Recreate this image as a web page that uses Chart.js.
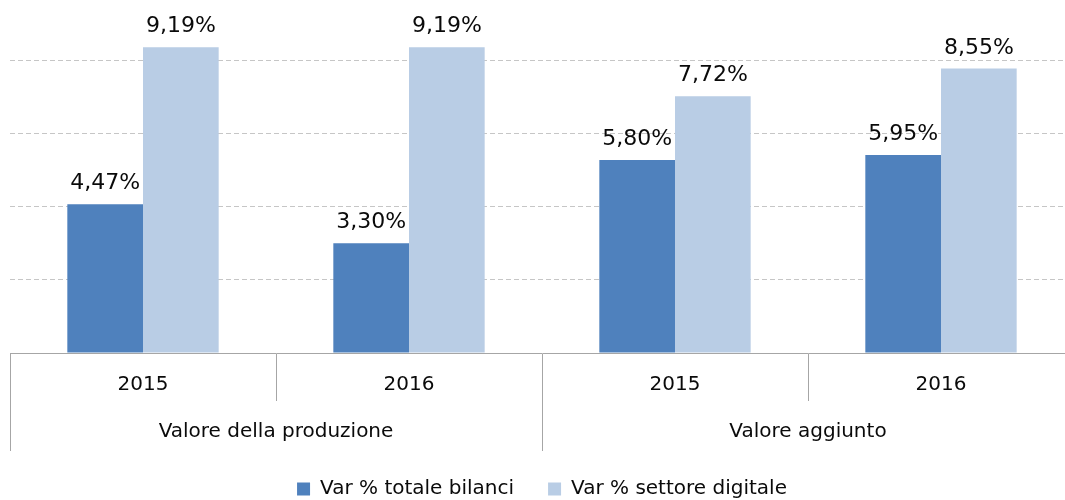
<!DOCTYPE html>
<html><head><meta charset="utf-8">
<script src="https://cdn.jsdelivr.net/npm/chart.js@4/dist/chart.umd.min.js"></script>
<style>html,body{margin:0;padding:0;overflow:hidden;background:#fff;width:1065px;height:500px}canvas{display:block}</style>
</head><body>
<canvas id="c" width="1075" height="509"></canvas>
<script>
const categories = ['2015', '2016', '2015', '2016'];
const groups = ['Valore della produzione', 'Valore aggiunto'];
const seriesNames = ['Var % totale bilanci', 'Var % settore digitale'];
const totaleBilanci = [4.47, 3.30, 5.80, 5.95];
const settoreDigitale = [9.19, 9.19, 7.72, 8.55];
const gridValues = [0, 2.2, 4.4, 6.6, 8.8];
const yMax = 10.61;

const FONT = '"DejaVu Sans", sans-serif';
const TEXT = '#0a0a0a';
const AXIS = '#a6a6a6';

const fmt = v => v.toFixed(2).replace('.', ',') + '%';

const valueLabels = {
  id: 'valueLabels',
  afterDatasetsDraw(chart) {
    const ctx = chart.ctx;
    ctx.save();
    ctx.font = '22px ' + FONT;
    ctx.fillStyle = TEXT;
    ctx.textAlign = 'center';
    ctx.textBaseline = 'alphabetic';
    chart.data.datasets.forEach((ds, i) => {
      chart.getDatasetMeta(i).data.forEach((bar, j) => {
        ctx.fillText(fmt(ds.data[j]), bar.x, bar.y - 15);
      });
    });
    ctx.restore();
  }
};

new Chart(document.getElementById('c'), {
  type: 'bar',
  data: {
    labels: categories,
    datasets: [
      { label: seriesNames[0], data: totaleBilanci, backgroundColor: '#4f81bd', xAxisID: 'x', categoryPercentage: 0.569, barPercentage: 1 },
      { label: seriesNames[1], data: settoreDigitale, backgroundColor: '#b9cde5', xAxisID: 'x', categoryPercentage: 0.569, barPercentage: 1 }
    ]
  },
  options: {
    responsive: false,
    animation: false,
    devicePixelRatio: 1,
    layout: { padding: { left: 10, right: 1, top: 0, bottom: 0 }, autoPadding: false },
    plugins: {
      legend: {
        position: 'bottom',
        labels: { boxWidth: 13, boxHeight: 13, padding: 34, color: TEXT, font: { family: FONT, size: 20 } }
      },
      tooltip: { enabled: false }
    },
    scales: {
      y: {
        min: 0, max: yMax,
        afterBuildTicks: s => { s.ticks = gridValues.map(v => ({ value: v })); },
        ticks: { display: false },
        border: { display: false, dash: [5, 3] },
        grid: {
          drawTicks: false,
          borderDash: [5, 3],
          color: c => (c.tick && c.tick.value === 0) ? 'rgba(0,0,0,0)' : '#c6c6c6',
          lineWidth: 1
        }
      },
      x: {
        weight: 0,
        offset: true,
        afterFit: s => { s.height = 48; },
        border: { display: true, color: AXIS, width: 1 },
        grid: { offset: true, drawOnChartArea: false, drawTicks: true, tickLength: 48, tickColor: AXIS, tickWidth: 1, color: AXIS },
        ticks: { color: TEXT, font: { family: FONT, size: 20 }, padding: -28, maxRotation: 0, autoSkip: false }
      },
      x2: {
        type: 'category',
        position: 'bottom',
        weight: 1,
        labels: groups,
        offset: true,
        afterFit: s => { s.height = 44; },
        border: { display: false },
        grid: { offset: true, drawOnChartArea: false, drawTicks: true, tickLength: 50, tickColor: AXIS, tickWidth: 1, color: AXIS },
        ticks: { color: TEXT, font: { family: FONT, size: 20 }, padding: -31, maxRotation: 0, autoSkip: false }
      }
    }
  },
  plugins: [valueLabels]
});
</script>
</body></html>
